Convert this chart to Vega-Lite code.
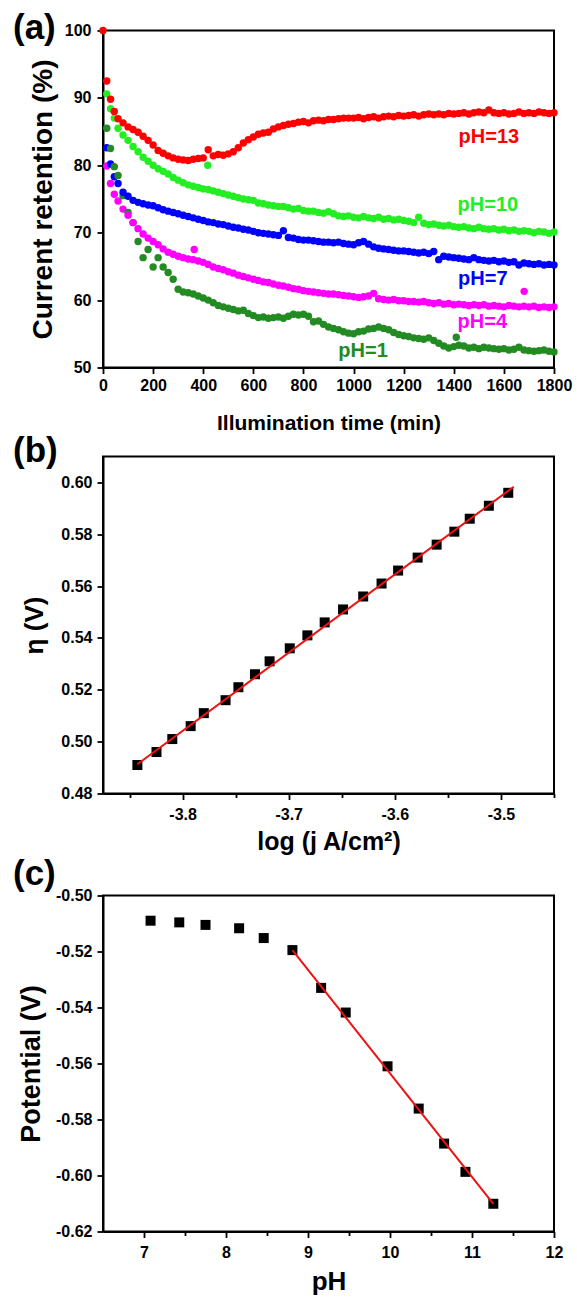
{
  "$schema": "https://vega.github.io/schema/vega-lite/v6.json",
  "padding": {"left": 12, "top": 9.5, "right": 5, "bottom": 2},
  "background": "white",
  "bounds": "flush",
  "spacing": 0,
  "config": {
    "font": "Liberation Sans",
    "view": {"stroke": null},
    "axis": {"domainColor": "black", "domainWidth": 2, "tickColor": "black", "tickWidth": 1.8, "labelFont": "Liberation Sans", "labelFontSize": 16, "labelFontWeight": "bold", "labelColor": "black", "titleFont": "Liberation Sans", "titleFontWeight": "bold", "titleColor": "black", "grid": false, "labelOverlap": false, "labelFlush": false, "labelBound": false},
    "title": {"font": "Liberation Sans", "fontWeight": "bold", "color": "black", "fontSize": 35, "anchor": "start", "frame": "group", "offset": 0, "baseline": "alphabetic"},
    "locale": {"number": {"decimal": ".", "thousands": ",", "grouping": [3], "currency": ["$", ""], "minus": "-"}}
  },
  "vconcat": [
    {
      "width": 451, "height": 337,
      "view": {"stroke": "black", "strokeWidth": 2},
      "title": {"text": "(a)", "dx": -90, "dy": 27},
      "layer": [
        {
          "data": {"values": [
            {"t": 0, "s13": 100},
            {"t": 15, "s13": 92.5, "s10": 90.6, "s7": 82.6, "s4": 79.9, "s1": 85.5},
            {"t": 30, "s13": 89.8, "s10": 88.4, "s7": 80.2, "s4": 77.3, "s1": 82.5},
            {"t": 45, "s13": 88.0, "s10": 87.0, "s7": 78.3, "s4": 75.7, "s1": 79.8},
            {"t": 60, "s13": 86.9, "s10": 85.5, "s7": 77.3, "s4": 74.7, "s1": 78.5},
            {"t": 80, "s13": 86.3, "s10": 84.5, "s7": 76.0, "s4": 73.5, "s1": 75.5},
            {"t": 100, "s13": 85.7, "s10": 83.7, "s7": 75.4, "s4": 72.6, "s1": 73.0},
            {"t": 120, "s13": 85.3, "s10": 82.8, "s7": 74.8, "s4": 71.5, "s1": 71.5},
            {"t": 140, "s13": 84.9, "s10": 82.0, "s7": 74.5, "s4": 70.6, "s1": 68.7},
            {"t": 160, "s13": 84.3, "s10": 81.2, "s7": 74.3, "s4": 69.8, "s1": 66.3},
            {"t": 180, "s13": 83.7, "s10": 80.6, "s7": 74.1, "s4": 69.2, "s1": 67.5},
            {"t": 200, "s13": 83.0, "s10": 80.0, "s7": 74.0, "s4": 68.7, "s1": 64.9},
            {"t": 220, "s13": 82.2, "s10": 79.5, "s7": 73.7, "s4": 68.2, "s1": 66.3},
            {"t": 240, "s13": 81.8, "s10": 79.1, "s7": 73.4, "s4": 67.6, "s1": 64.9},
            {"t": 260, "s13": 81.4, "s10": 78.7, "s7": 73.2, "s4": 67.1, "s1": 64.1},
            {"t": 280, "s13": 81.1, "s10": 78.2, "s7": 73.0, "s4": 66.8, "s1": 63.1},
            {"t": 300, "s13": 80.9, "s10": 77.8, "s7": 72.8, "s4": 66.5, "s1": 61.6},
            {"t": 320, "s13": 80.8, "s10": 77.4, "s7": 72.6, "s4": 66.3, "s1": 61.2},
            {"t": 340, "s13": 80.7, "s10": 77.1, "s7": 72.4, "s4": 66.1, "s1": 61.1},
            {"t": 360, "s13": 80.9, "s10": 76.9, "s7": 72.2, "s4": 66.0, "s1": 60.9},
            {"t": 380, "s13": 81.0, "s10": 76.7, "s7": 72.0, "s4": 65.8, "s1": 60.6},
            {"t": 400, "s13": 81.1, "s10": 76.5, "s7": 71.8, "s4": 65.6, "s1": 60.3},
            {"t": 420, "s13": 82.3, "s10": 76.4, "s7": 71.6, "s4": 65.3, "s1": 60.0},
            {"t": 440, "s13": 81.4, "s10": 76.2, "s7": 71.5, "s4": 64.9, "s1": 59.6},
            {"t": 460, "s13": 81.6, "s10": 76.0, "s7": 71.3, "s4": 64.7, "s1": 59.2},
            {"t": 480, "s13": 81.5, "s10": 75.8, "s7": 71.2, "s4": 64.5, "s1": 59.0},
            {"t": 500, "s13": 81.7, "s10": 75.6, "s7": 71.0, "s4": 64.2, "s1": 58.8},
            {"t": 520, "s13": 82.0, "s10": 75.4, "s7": 70.8, "s4": 64.0, "s1": 58.6},
            {"t": 540, "s13": 82.6, "s10": 75.2, "s7": 70.7, "s4": 63.7, "s1": 58.4},
            {"t": 560, "s13": 83.3, "s10": 75.0, "s7": 70.5, "s4": 63.5, "s1": 58.5},
            {"t": 580, "s13": 83.8, "s10": 74.9, "s7": 70.4, "s4": 63.3, "s1": 58.0},
            {"t": 600, "s13": 84.2, "s10": 74.8, "s7": 70.2, "s4": 63.1, "s1": 57.7},
            {"t": 620, "s13": 84.6, "s10": 74.4, "s7": 70.0, "s4": 62.9, "s1": 57.4},
            {"t": 640, "s13": 84.8, "s10": 74.3, "s7": 69.9, "s4": 62.7, "s1": 57.5},
            {"t": 660, "s13": 84.9, "s10": 74.1, "s7": 69.8, "s4": 62.6, "s1": 57.3},
            {"t": 680, "s13": 85.4, "s10": 74.0, "s7": 69.7, "s4": 62.4, "s1": 57.4},
            {"t": 700, "s13": 85.7, "s10": 73.9, "s7": 69.6, "s4": 62.2, "s1": 57.5},
            {"t": 720, "s13": 85.9, "s10": 73.9, "s7": 70.3, "s4": 62.1, "s1": 57.3},
            {"t": 740, "s13": 86.1, "s10": 73.7, "s7": 69.3, "s4": 61.9, "s1": 57.6},
            {"t": 760, "s13": 86.2, "s10": 73.5, "s7": 69.2, "s4": 61.7, "s1": 57.9},
            {"t": 780, "s13": 86.4, "s10": 73.6, "s7": 69.0, "s4": 61.6, "s1": 57.8},
            {"t": 800, "s13": 86.5, "s10": 73.3, "s7": 68.9, "s4": 61.4, "s1": 57.9},
            {"t": 820, "s13": 86.3, "s10": 73.2, "s7": 68.9, "s4": 61.3, "s1": 57.6},
            {"t": 840, "s13": 86.6, "s10": 73.2, "s7": 68.8, "s4": 61.2, "s1": 56.8},
            {"t": 860, "s13": 86.7, "s10": 73.0, "s7": 68.7, "s4": 61.1, "s1": 56.9},
            {"t": 880, "s13": 86.6, "s10": 72.9, "s7": 68.6, "s4": 61.0, "s1": 56.4},
            {"t": 900, "s13": 86.8, "s10": 73.1, "s7": 68.6, "s4": 60.9, "s1": 56.0},
            {"t": 920, "s13": 86.8, "s10": 72.8, "s7": 68.5, "s4": 60.9, "s1": 55.8},
            {"t": 940, "s13": 86.9, "s10": 72.5, "s7": 68.6, "s4": 60.8, "s1": 55.6},
            {"t": 960, "s13": 87.0, "s10": 72.4, "s7": 68.4, "s4": 60.7, "s1": 55.3},
            {"t": 980, "s13": 87.0, "s10": 72.5, "s7": 68.3, "s4": 60.6, "s1": 55.1},
            {"t": 1000, "s13": 87.0, "s10": 72.3, "s7": 68.2, "s4": 60.5, "s1": 55.0},
            {"t": 1020, "s13": 87.1, "s10": 72.2, "s7": 68.5, "s4": 60.4, "s1": 55.3},
            {"t": 1040, "s13": 86.9, "s10": 72.4, "s7": 68.7, "s4": 60.5, "s1": 55.4},
            {"t": 1060, "s13": 87.1, "s10": 72.2, "s7": 68.3, "s4": 60.6, "s1": 55.7},
            {"t": 1080, "s13": 87.2, "s10": 72.1, "s7": 67.9, "s4": 61.0, "s1": 55.8},
            {"t": 1100, "s13": 87.0, "s10": 72.3, "s7": 67.7, "s4": 60.2, "s1": 56.0},
            {"t": 1120, "s13": 87.2, "s10": 72.0, "s7": 67.6, "s4": 60.1, "s1": 55.8},
            {"t": 1140, "s13": 87.3, "s10": 72.1, "s7": 67.5, "s4": 60.0, "s1": 55.6},
            {"t": 1160, "s13": 87.2, "s10": 71.9, "s7": 67.4, "s4": 60.1, "s1": 55.2},
            {"t": 1180, "s13": 87.4, "s10": 72.0, "s7": 67.3, "s4": 59.9, "s1": 54.9},
            {"t": 1200, "s13": 87.3, "s10": 71.8, "s7": 67.3, "s4": 59.9, "s1": 54.7},
            {"t": 1220, "s13": 87.4, "s10": 71.7, "s7": 67.2, "s4": 59.8, "s1": 54.6},
            {"t": 1240, "s13": 87.5, "s10": 71.5, "s7": 67.1, "s4": 59.8, "s1": 54.4},
            {"t": 1260, "s13": 87.3, "s10": 72.3, "s7": 67.0, "s4": 59.7, "s1": 54.3},
            {"t": 1280, "s13": 87.5, "s10": 71.4, "s7": 67.1, "s4": 59.8, "s1": 54.2},
            {"t": 1300, "s13": 87.6, "s10": 71.2, "s7": 66.9, "s4": 59.6, "s1": 54.4},
            {"t": 1320, "s13": 87.5, "s10": 71.3, "s7": 67.2, "s4": 59.5, "s1": 54.0},
            {"t": 1340, "s13": 87.6, "s10": 71.1, "s7": 66.0, "s4": 59.6, "s1": 53.6},
            {"t": 1360, "s13": 87.5, "s10": 71.0, "s7": 66.5, "s4": 59.4, "s1": 53.2},
            {"t": 1380, "s13": 87.7, "s10": 71.1, "s7": 66.4, "s4": 59.5, "s1": 52.9},
            {"t": 1400, "s13": 87.6, "s10": 70.9, "s7": 66.3, "s4": 59.3, "s1": 53.1},
            {"t": 1420, "s13": 87.7, "s10": 70.8, "s7": 66.2, "s4": 59.4, "s1": 53.3},
            {"t": 1440, "s13": 87.8, "s10": 70.9, "s7": 66.1, "s4": 59.3, "s1": 53.2},
            {"t": 1460, "s13": 87.6, "s10": 70.7, "s7": 66.0, "s4": 59.2, "s1": 52.9},
            {"t": 1480, "s13": 87.8, "s10": 70.6, "s7": 66.3, "s4": 59.3, "s1": 53.0},
            {"t": 1500, "s13": 87.9, "s10": 70.8, "s7": 66.0, "s4": 59.2, "s1": 52.8},
            {"t": 1520, "s13": 87.8, "s10": 70.6, "s7": 65.9, "s4": 59.3, "s1": 53.0},
            {"t": 1540, "s13": 88.2, "s10": 70.5, "s7": 65.8, "s4": 59.1, "s1": 52.9},
            {"t": 1560, "s13": 87.8, "s10": 70.6, "s7": 65.9, "s4": 59.2, "s1": 52.8},
            {"t": 1580, "s13": 87.7, "s10": 70.4, "s7": 65.7, "s4": 59.1, "s1": 52.7},
            {"t": 1600, "s13": 87.8, "s10": 70.5, "s7": 65.8, "s4": 59.0, "s1": 52.8},
            {"t": 1620, "s13": 87.6, "s10": 70.3, "s7": 65.6, "s4": 59.2, "s1": 52.6},
            {"t": 1640, "s13": 87.7, "s10": 70.4, "s7": 65.7, "s4": 59.1, "s1": 52.7},
            {"t": 1660, "s13": 87.9, "s10": 70.2, "s7": 65.2, "s4": 59.0, "s1": 53.0},
            {"t": 1680, "s13": 87.7, "s10": 70.3, "s7": 65.5, "s4": 59.1, "s1": 52.6},
            {"t": 1700, "s13": 87.8, "s10": 70.2, "s7": 65.4, "s4": 59.0, "s1": 52.5},
            {"t": 1720, "s13": 87.7, "s10": 70.0, "s7": 65.3, "s4": 59.1, "s1": 52.4},
            {"t": 1740, "s13": 87.9, "s10": 70.2, "s7": 65.4, "s4": 58.9, "s1": 52.5},
            {"t": 1760, "s13": 87.8, "s10": 70.1, "s7": 65.2, "s4": 59.0, "s1": 52.6},
            {"t": 1780, "s13": 87.7, "s10": 69.9, "s7": 65.3, "s4": 58.9, "s1": 52.4},
            {"t": 1800, "s13": 87.8, "s10": 70.1, "s7": 65.2, "s4": 59.0, "s1": 52.3},
            {"t": 418, "s10": 80.0},
            {"t": 364, "s4": 67.5},
            {"t": 1681, "s4": 61.3},
            {"t": 1410, "s1": 54.5}
          ]},
          "transform": [{"fold": ["s1", "s4", "s7", "s10", "s13"], "as": ["key", "value"]}],
          "mark": {"type": "point", "filled": true, "size": 55, "opacity": 1},
          "encoding": {
            "x": {"field": "t", "type": "quantitative", "scale": {"domain": [0, 1800], "nice": false},
              "axis": {"title": "Illumination time (min)", "titleFontSize": 21, "titlePadding": 19, "labelPadding": 4,
                "values": [0, 100, 200, 300, 400, 500, 600, 700, 800, 900, 1000, 1100, 1200, 1300, 1400, 1500, 1600, 1700, 1800],
                "labelExpr": "datum.value % 200 === 0 ? format(datum.value, 'd') : ''",
                "tickSize": {"condition": {"test": "datum.value % 200 === 0", "value": 6}, "value": 4}}},
            "y": {"field": "value", "type": "quantitative", "scale": {"domain": [50, 100], "nice": false, "zero": false},
              "axis": {"title": "Current retention (%)", "titleFontSize": 28, "titlePadding": 7, "labelPadding": 6,
                "values": [50, 55, 60, 65, 70, 75, 80, 85, 90, 95, 100],
                "labelExpr": "datum.value % 10 === 0 ? format(datum.value, 'd') : ''",
                "tickSize": {"condition": {"test": "datum.value % 10 === 0", "value": 6}, "value": 4}}},
            "color": {"field": "key", "type": "nominal", "legend": null,
              "scale": {"domain": ["s13", "s10", "s7", "s4", "s1"], "range": ["#FF0000", "#22EE22", "#0000FF", "#FF00FF", "#228B22"]}}
          }
        },
        {
          "data": {"values": [
            {"t": 1540, "value": 84.2, "key": "s13", "label": "pH=13"},
            {"t": 1536, "value": 74.1, "key": "s10", "label": "pH=10"},
            {"t": 1516, "value": 63.2, "key": "s7", "label": "pH=7"},
            {"t": 1514, "value": 56.7, "key": "s4", "label": "pH=4"},
            {"t": 1038, "value": 52.4, "key": "s1", "label": "pH=1"}
          ]},
          "mark": {"type": "text", "fontSize": 20, "fontWeight": "bold", "align": "center", "baseline": "middle"},
          "encoding": {
            "x": {"field": "t", "type": "quantitative"},
            "y": {"field": "value", "type": "quantitative"},
            "text": {"field": "label"},
            "color": {"field": "key", "type": "nominal", "legend": null}
          }
        }
      ]
    },
    {
      "width": 451, "height": 88.3,
      "data": {"values": []},
      "mark": "point"
    },
    {
      "width": 451, "height": 337,
      "view": {"stroke": "black", "strokeWidth": 2},
      "title": {"text": "(b)", "dx": -90, "dy": 16.5},
      "layer": [
        {
          "data": {"values": [
            {"x": -3.8426, "y": 0.491}, {"x": -3.8246, "y": 0.496}, {"x": -3.8097, "y": 0.501},
            {"x": -3.7924, "y": 0.506}, {"x": -3.7800, "y": 0.511}, {"x": -3.7595, "y": 0.516},
            {"x": -3.7474, "y": 0.521}, {"x": -3.7318, "y": 0.526}, {"x": -3.7180, "y": 0.531},
            {"x": -3.6990, "y": 0.536}, {"x": -3.6824, "y": 0.541}, {"x": -3.6661, "y": 0.546},
            {"x": -3.6488, "y": 0.551}, {"x": -3.6298, "y": 0.556}, {"x": -3.6125, "y": 0.561},
            {"x": -3.5969, "y": 0.566}, {"x": -3.5785, "y": 0.571}, {"x": -3.5606, "y": 0.576},
            {"x": -3.5439, "y": 0.581}, {"x": -3.5294, "y": 0.586}, {"x": -3.5114, "y": 0.591},
            {"x": -3.4931, "y": 0.596}
          ]},
          "mark": {"type": "point", "shape": "square", "filled": true, "size": 100, "color": "black", "opacity": 1},
          "encoding": {
            "x": {"field": "x", "type": "quantitative", "scale": {"domain": [-3.875, -3.45], "nice": false, "zero": false},
              "axis": {"title": "log (j A/cm²)", "titleFontSize": 25, "titlePadding": 7, "labelPadding": 7,
                "values": [-3.85, -3.8, -3.75, -3.7, -3.65, -3.6, -3.55, -3.5, -3.45],
                "labelExpr": "abs(round(datum.value * 100)) % 10 === 0 ? replace(format(datum.value, '.1f'), '\u2212', '-') : ''",
                "tickSize": {"condition": {"test": "abs(round(datum.value * 100)) % 10 === 0", "value": 6}, "value": 4}}},
            "y": {"field": "y", "type": "quantitative", "scale": {"domain": [0.48, 0.61], "nice": false, "zero": false},
              "axis": {"title": "η (V)", "titleFontSize": 26, "titlePadding": 13, "labelPadding": 5,
                "values": [0.48, 0.49, 0.5, 0.51, 0.52, 0.53, 0.54, 0.55, 0.56, 0.57, 0.58, 0.59, 0.6],
                "labelExpr": "abs(round(datum.value * 100)) % 2 === 0 ? format(datum.value, '.2f') : ''",
                "tickSize": {"condition": {"test": "abs(round(datum.value * 100)) % 2 === 0", "value": 6}, "value": 4}}}
          }
        },
        {
          "data": {"values": [{"x": -3.8426, "y": 0.4913}, {"x": -3.488, "y": 0.5983}]},
          "mark": {"type": "line", "color": "#EE1111", "strokeWidth": 2},
          "encoding": {
            "x": {"field": "x", "type": "quantitative"},
            "y": {"field": "y", "type": "quantitative"}
          }
        }
      ]
    },
    {
      "width": 451, "height": 101.3,
      "data": {"values": []},
      "mark": "point"
    },
    {
      "width": 451, "height": 336,
      "view": {"stroke": "black", "strokeWidth": 2},
      "title": {"text": "(c)", "dx": -90, "dy": 8.7},
      "layer": [
        {
          "data": {"values": [
            {"x": 7.08, "y": -0.5090}, {"x": 7.43, "y": -0.5096}, {"x": 7.75, "y": -0.5105},
            {"x": 8.16, "y": -0.5117}, {"x": 8.46, "y": -0.5152}, {"x": 8.81, "y": -0.5195},
            {"x": 9.16, "y": -0.5330}, {"x": 9.46, "y": -0.5418}, {"x": 9.97, "y": -0.5610},
            {"x": 10.35, "y": -0.5761}, {"x": 10.66, "y": -0.5886}, {"x": 10.92, "y": -0.5987},
            {"x": 11.26, "y": -0.6101}
          ]},
          "mark": {"type": "point", "shape": "square", "filled": true, "size": 100, "color": "black", "opacity": 1},
          "encoding": {
            "x": {"field": "x", "type": "quantitative", "scale": {"domain": [6.5, 12], "nice": false, "zero": false},
              "axis": {"title": "pH", "titleFontSize": 26, "titlePadding": 8, "labelPadding": 6.5,
                "values": [7, 7.5, 8, 8.5, 9, 9.5, 10, 10.5, 11, 11.5, 12],
                "labelExpr": "datum.value % 1 === 0 ? format(datum.value, 'd') : ''",
                "tickSize": {"condition": {"test": "datum.value % 1 === 0", "value": 6}, "value": 4}}},
            "y": {"field": "y", "type": "quantitative", "scale": {"domain": [-0.62, -0.5], "nice": false, "zero": false},
              "axis": {"title": "Potential (V)", "titleFontSize": 27, "titlePadding": 10, "labelPadding": 5,
                "values": [-0.62, -0.61, -0.6, -0.59, -0.58, -0.57, -0.56, -0.55, -0.54, -0.53, -0.52, -0.51, -0.5],
                "labelExpr": "abs(round(datum.value * 100)) % 2 === 0 ? replace(format(datum.value, '.2f'), '\u2212', '-') : ''",
                "tickSize": {"condition": {"test": "abs(round(datum.value * 100)) % 2 === 0", "value": 6}, "value": 4}}}
          }
        },
        {
          "data": {"values": [{"x": 8.81, "y": -0.5195}, {"x": 11.26, "y": -0.6101}]},
          "mark": {"type": "line", "color": "#EE1111", "strokeWidth": 2},
          "encoding": {
            "x": {"field": "x", "type": "quantitative"},
            "y": {"field": "y", "type": "quantitative"}
          }
        }
      ]
    }
  ]
}
